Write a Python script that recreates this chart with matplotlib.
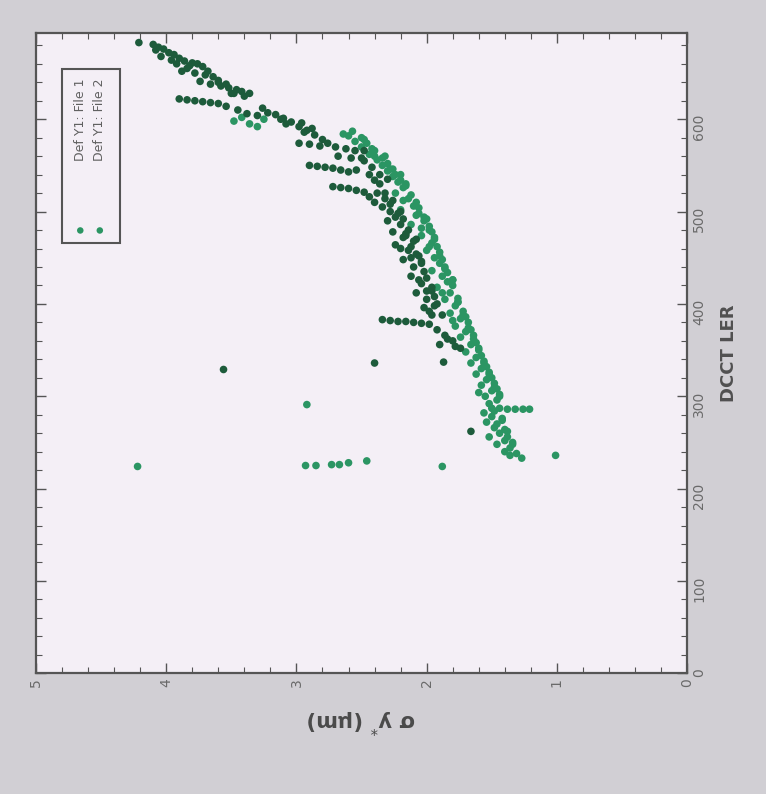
import matplotlib.pyplot as plt
from matplotlib.patches import Rectangle

# ==========================================================
# DATA  (sigma_y* in um, DCCT LER)
# ==========================================================

# File 1 (lighter green)
file1_sigma = [
    3.48, 3.42, 3.36, 3.30, 3.25, 2.57, 2.64, 2.60, 2.55, 2.50,
    2.44, 2.38, 2.34, 2.30, 2.26, 2.22, 2.18, 2.24, 2.14, 2.10,
    2.20, 2.06, 2.02, 2.12, 1.98, 2.04, 1.96, 2.00, 1.94, 1.90,
    1.96, 1.88, 1.84, 1.92, 1.82, 1.86, 1.78, 1.82, 1.74, 1.78,
    1.70, 1.74, 1.66, 1.70, 1.62, 1.66, 1.58, 1.62, 1.54, 1.58,
    1.50, 1.55, 1.46, 1.52,
    1.50, 1.44, 1.38, 1.32, 1.26, 1.21,
    1.56, 1.50, 1.54, 1.48, 1.44, 1.52, 1.40, 1.46, 1.36, 1.40,
    1.31, 1.27,
    2.50, 2.42, 2.34, 2.28, 2.20, 2.12, 2.06, 2.00, 1.96, 1.92,
    1.88, 1.84, 1.80, 1.76, 1.72, 1.68, 1.64, 1.60, 1.56, 1.52,
    1.48, 1.44, 1.42, 1.38, 1.34,
    2.46, 2.40, 2.30, 2.24, 2.16, 2.08, 2.02, 1.98, 1.94, 1.90,
    1.86, 1.80, 1.76, 1.70, 1.66, 1.62, 1.58, 1.54, 1.50, 1.46,
    2.48, 2.40, 2.32, 2.26, 2.20, 2.16, 2.18, 2.08, 2.04, 1.94,
    1.98, 1.90, 1.86, 1.80, 1.88, 1.76, 1.72, 1.80, 1.68, 1.64,
    1.60, 1.56, 1.52, 1.48, 1.44, 1.60, 1.48, 1.42, 1.46, 1.40,
    1.38, 1.34, 1.36,
    # scattered points
    2.92, 4.22, 2.93, 2.85, 2.73, 2.67, 2.60, 2.46, 1.88, 1.01,
]
file1_dcct = [
    598, 602, 595, 592, 600, 587, 584, 582, 576, 570,
    562, 556, 550, 544, 538, 532, 526, 520, 514, 506,
    502, 498, 490, 486, 480, 474, 466, 458, 450, 444,
    436, 430, 424, 418, 412, 405, 398, 390, 384, 376,
    370, 364, 356, 348, 342, 336, 330, 324, 318, 312,
    306, 300, 296, 292,
    287, 287, 286, 286, 286, 286,
    282, 278, 272, 266, 260, 256, 252, 248, 244, 240,
    238, 233,
    580, 568, 558, 546, 534, 518, 504, 492, 478, 462,
    448, 434, 420, 406, 392, 380, 366, 352, 338, 326,
    314, 302, 274, 262, 250,
    574, 560, 552, 540, 528, 510, 494, 484, 470, 456,
    440, 426, 402, 386, 372, 358, 344, 332, 320, 308,
    578, 566, 560, 546, 540, 530, 512, 496, 482, 472,
    462, 452, 438, 426, 412, 402, 388, 382, 374, 362,
    350, 336, 324, 310, 300, 304, 284, 276, 270, 264,
    256, 248, 236,
    291, 224, 225, 225, 226, 226, 228, 230, 224, 236,
]

# File 2 (darker green)
file2_sigma = [
    4.21, 4.10, 4.06, 4.02, 3.98, 3.94, 4.04, 3.90, 3.86, 3.80,
    3.76, 3.72, 3.84, 3.88, 3.78, 3.70, 3.64, 3.74, 3.66, 3.58,
    3.52, 3.46, 3.42, 3.36,
    3.90, 3.84, 3.78, 3.72, 3.66, 3.60, 3.54,
    3.45, 3.38, 3.30, 3.22, 3.16, 3.10, 3.04, 2.98, 2.92, 2.86,
    2.80, 2.76,
    2.98, 2.90, 2.82, 2.70, 2.62, 2.55, 2.48,
    2.90, 2.84, 2.78, 2.72, 2.66, 2.60, 2.54,
    2.48, 2.42, 2.36, 2.30,
    2.72, 2.66, 2.60, 2.54, 2.48,
    2.44, 2.40, 2.34, 2.28, 2.24, 2.30, 2.20, 2.14, 2.26, 2.18,
    2.10, 2.24, 2.14, 2.06, 2.18, 2.10, 2.02, 2.12, 2.04, 1.96,
    2.08, 2.00, 1.92, 1.98,
    2.34, 2.28, 2.22, 2.16, 2.10, 2.04, 1.98,
    1.92, 1.86, 1.80, 1.90, 1.74,
    3.60, 3.50, 3.26, 3.12, 2.94, 2.36, 2.32, 2.26, 2.20, 2.16,
    2.12, 2.08, 2.04, 2.00, 1.96, 1.94, 1.88,
    4.08, 3.96, 3.92, 3.82, 3.68, 3.60, 3.54, 3.48, 3.40,
    2.38, 2.32, 2.28, 2.22, 2.18, 2.16, 2.08, 2.20, 2.12, 2.04,
    2.06, 2.00, 1.94, 2.02, 1.96, 1.84, 1.78,
    2.96, 2.88, 3.08, 2.68, 2.58, 2.50, 2.44, 2.40,
    # scattered points
    3.56, 2.40, 1.87, 1.66,
]
file2_dcct = [
    683, 681, 678, 676, 672, 670, 668, 666, 663, 661,
    660, 657, 655, 652, 650, 648, 646, 641, 638, 636,
    634, 632, 630, 628,
    622, 621, 620, 619, 618, 617, 614,
    610, 606, 604, 607, 605, 601, 597, 592, 588, 583,
    578, 574,
    574, 573, 571, 570, 568, 566, 566,
    550, 549, 548, 547, 545, 543, 545,
    555, 548, 540, 535,
    527, 526, 525, 523, 521,
    516, 510, 505, 500, 494, 490, 486, 480, 478, 472,
    468, 464, 458, 452, 448, 440, 435, 430, 422, 418,
    412, 405, 400, 392,
    383, 382, 381, 381, 380, 379, 378,
    372, 366, 360, 356, 352,
    640, 628, 612, 600, 586, 530, 520, 512, 500, 474,
    462, 454, 444, 428, 414, 398, 388,
    675, 664, 660, 658, 652, 642, 638, 628, 625,
    520, 514, 508, 498, 492, 476, 470, 460, 450, 446,
    426, 414, 408, 396, 388, 362, 354,
    596, 590, 595, 560, 558, 558, 540, 534,
    329, 336, 337, 262,
]

sigma_ticks = [0, 1, 2, 3, 4, 5]
dcct_ticks = [0, 100, 200, 300, 400, 500, 600]
legend_labels = ["Def Y1: File 1", "Def Y1: File 2"]

light_green = "#2b9563"
dark_green = "#1d5b3b"

# ==========================================================
# FIGURE  (the whole chart is drawn turned a quarter turn)
# ==========================================================

fig = plt.figure(figsize=(7.66, 7.94), dpi=100)
fig.patch.set_facecolor("#d1cfd4")

ax = fig.add_axes([0.047, 0.152, 0.850, 0.806])
ax.set_facecolor("#f4eff6")

ax.scatter(file1_sigma, file1_dcct, s=30, color=light_green,
           edgecolors="none", zorder=3)
ax.scatter(file2_sigma, file2_dcct, s=30, color=dark_green,
           edgecolors="none", zorder=4)

ax.set_xlim(5, 0)
ax.set_ylim(0, 693)

ax.set_xticks(sigma_ticks)
ax.set_xticks([i * 0.2 for i in range(26)], minor=True)
ax.set_yticks(dcct_ticks)
ax.set_yticks([i * 20 for i in range(35)], minor=True)

ax.yaxis.tick_right()
ax.yaxis.set_label_position("right")

ax.tick_params(which="both", direction="in", top=True, bottom=True,
               left=True, right=True, colors="#555555", labelsize=10)
ax.tick_params(which="major", length=7, width=1.0)
ax.tick_params(which="minor", length=4, width=0.8)

for lab in ax.get_xticklabels() + ax.get_yticklabels():
    lab.set_rotation(90)
    lab.set_color("#6a6a6a")

for side in ax.spines.values():
    side.set_color("#555555")
    side.set_linewidth(1.6)

ax.set_ylabel("DCCT LER", rotation=90, fontsize=13, fontweight="bold",
              color="#505050", labelpad=10)
ax.set_xlabel("σ y$^{*}$ (μm)", rotation=180, fontsize=15,
              fontweight="bold", color="#4a4a4a", labelpad=14)

# ==========================================================
# LEGEND  (drawn by hand so it can be turned too)
# ==========================================================

ax.add_patch(Rectangle((0.040, 0.673), 0.089, 0.272, transform=ax.transAxes,
                       facecolor="none", edgecolor="#555555",
                       linewidth=1.5, zorder=5))

for xpos, text, col in zip([0.068, 0.098], legend_labels,
                           [light_green, light_green]):
    ax.text(xpos, 0.930, text, transform=ax.transAxes, rotation=90,
            ha="center", va="top", fontsize=9, color="#606060", zorder=6)
    ax.scatter([xpos], [0.692], s=22, color=col, edgecolors="none",
               transform=ax.transAxes, zorder=6)

fig.savefig("out.png", dpi=100, facecolor=fig.get_facecolor())
